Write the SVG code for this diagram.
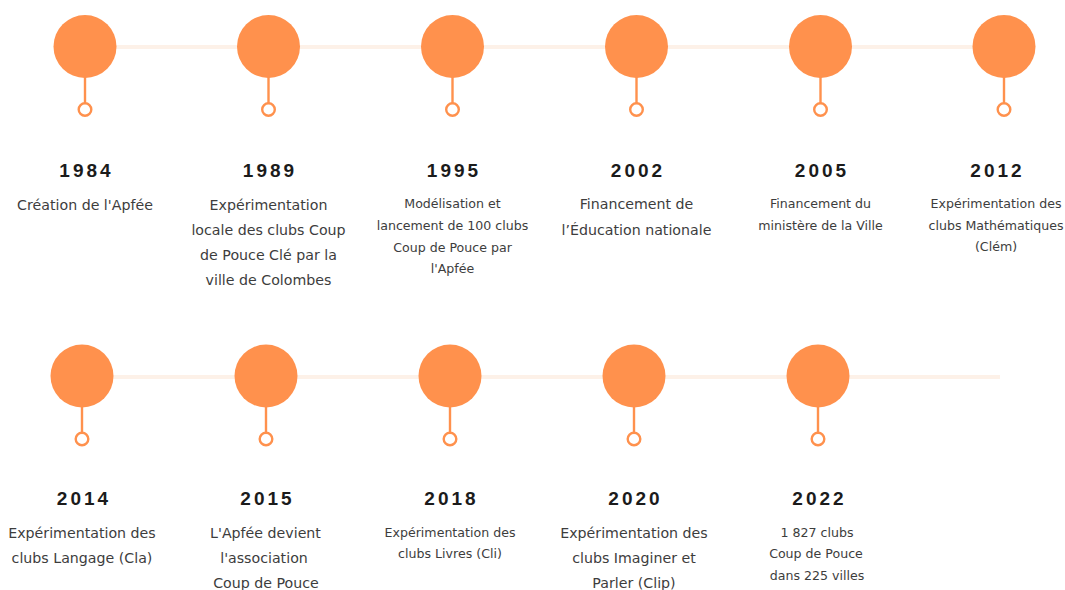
<svg xmlns="http://www.w3.org/2000/svg" width="1065" height="590" viewBox="0 0 1065 590">
<style>
.bg{fill:#ffffff}
.track{stroke:#fdf1e8;stroke-width:4;fill:none}
.big{fill:#ff914d}
.stem{stroke:#ff914d;stroke-width:2.4}
.dot{fill:#ffffff;stroke:#ff914d;stroke-width:2.4}
.yr{font-family:"Liberation Sans",Arial,sans-serif;font-weight:bold;font-size:19px;letter-spacing:3px;fill:#1b1b1b;text-anchor:middle}
.d{font-family:"DejaVu Sans",sans-serif;font-size:14.2px;fill:#3d3d3d;text-anchor:middle}
.s{font-family:"DejaVu Sans",sans-serif;font-size:12.6px;fill:#3d3d3d;text-anchor:middle}
</style>
<rect class="bg" x="0" y="0" width="1065" height="590"/>
<g id="connectors">
<line class="track" x1="85" y1="47" x2="1004" y2="47"/>
<line class="track" x1="82" y1="377" x2="1000" y2="377"/>
</g>
<defs>
<g id="pin">
<line class="stem" x1="0" y1="28" x2="0" y2="57"/>
<circle class="big" cx="0" cy="0" r="31.5"/>
<circle class="dot" cx="0" cy="63" r="6.3"/>
</g>
</defs>
<g id="n1984">
<use href="#pin" x="85" y="46.5"/>
<text class="yr" x="86.5" y="177">1984</text>
<text class="d" x="85" y="210">Création de l'Apfée</text>
</g>
<g id="n1989">
<use href="#pin" x="268.5" y="46.5"/>
<text class="yr" x="270" y="177">1989</text>
<text class="d" x="268.5" y="210">Expérimentation</text>
<text class="d" x="268.5" y="235">locale des clubs Coup</text>
<text class="d" x="268.5" y="260">de Pouce Clé par la</text>
<text class="d" x="268.5" y="285">ville de Colombes</text>
</g>
<g id="n1995">
<use href="#pin" x="452.5" y="46.5"/>
<text class="yr" x="454" y="177">1995</text>
<text class="s" x="452.5" y="207.5">Modélisation et</text>
<text class="s" x="452.5" y="229.5">lancement de 100 clubs</text>
<text class="s" x="452.5" y="251.5">Coup de Pouce par</text>
<text class="s" x="452.5" y="273">l'Apfée</text>
</g>
<g id="n2002">
<use href="#pin" x="636.5" y="46.5"/>
<text class="yr" x="638" y="177">2002</text>
<text class="d" x="636.5" y="209">Financement de</text>
<text class="d" x="636.5" y="235">l’Éducation nationale</text>
</g>
<g id="n2005">
<use href="#pin" x="820.5" y="46.5"/>
<text class="yr" x="822" y="177">2005</text>
<text class="s" x="820.5" y="207.5">Financement du</text>
<text class="s" x="820.5" y="229.5">ministère de la Ville</text>
</g>
<g id="n2012">
<use href="#pin" x="1004" y="46.5"/>
<text class="yr" x="997.5" y="177">2012</text>
<text class="s" x="996" y="207.5">Expérimentation des</text>
<text class="s" x="996" y="229.5">clubs Mathématiques</text>
<text class="s" x="996" y="251">(Clém)</text>
</g>
<g id="n2014">
<use href="#pin" x="82" y="376"/>
<text class="yr" x="84" y="505">2014</text>
<text class="d" x="82" y="538">Expérimentation des</text>
<text class="d" x="82" y="563">clubs Langage (Cla)</text>
</g>
<g id="n2015">
<use href="#pin" x="266" y="376"/>
<text class="yr" x="267.5" y="505">2015</text>
<text class="d" x="265.5" y="538">L'Apfée devient</text>
<text class="d" x="264" y="563">l'association</text>
<text class="d" x="266" y="588">Coup de Pouce</text>
</g>
<g id="n2018">
<use href="#pin" x="450" y="376"/>
<text class="yr" x="451.5" y="505">2018</text>
<text class="s" x="450" y="536.5">Expérimentation des</text>
<text class="s" x="450" y="558">clubs Livres (Cli)</text>
</g>
<g id="n2020">
<use href="#pin" x="634" y="376"/>
<text class="yr" x="635.5" y="505">2020</text>
<text class="d" x="634" y="538">Expérimentation des</text>
<text class="d" x="634" y="563">clubs Imaginer et</text>
<text class="d" x="634" y="588">Parler (Clip)</text>
</g>
<g id="n2022">
<use href="#pin" x="818" y="376"/>
<text class="yr" x="819.5" y="505">2022</text>
<text class="s" x="817" y="536.5">1 827 clubs</text>
<text class="s" x="816" y="558">Coup de Pouce</text>
<text class="s" x="817" y="579.5">dans 225 villes</text>
</g>
</svg>
